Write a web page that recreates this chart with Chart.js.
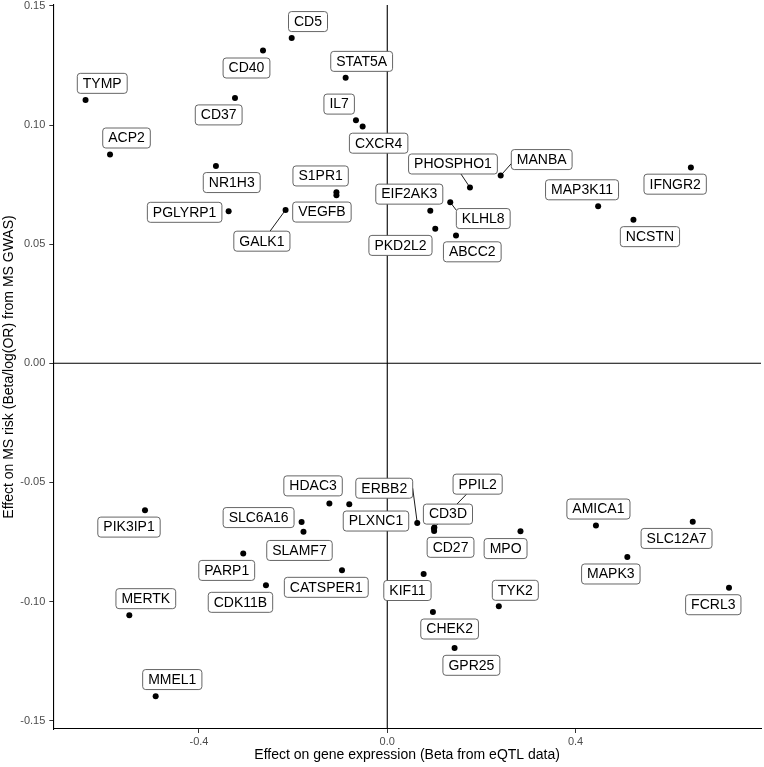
<!DOCTYPE html>
<html><head><meta charset="utf-8">
<script src="https://cdn.jsdelivr.net/npm/chart.js@4.4.0/dist/chart.umd.min.js"></script>
<style>html,body{margin:0;padding:0;background:#fff;}#wrap{width:764px;height:767px;}</style>
</head><body><div id="wrap"><canvas id="c" width="764" height="767"></canvas></div>
<script>
// ---- data ----
const genes = ["TYMP","ACP2","CD40","CD37","NR1H3","PGLYRP1","GALK1","CD5","STAT5A","IL7","CXCR4","S1PR1","VEGFB","PHOSPHO1","MANBA","EIF2AK3","KLHL8","PKD2L2","ABCC2","MAP3K11","IFNGR2","NCSTN",
  "PIK3IP1","PARP1","MERTK","MMEL1","SLC6A16","CDK11B","HDAC3","SLAMF7","PLXNC1","CATSPER1","ERBB2","PPIL2","CD3D","CD27","MPO","KIF11","TYK2","CHEK2","GPR25","AMICA1","SLC12A7","MAPK3","FCRL3"];
const eqtlBeta = [-0.641,-0.589,-0.264,-0.3235,-0.364,-0.337,-0.216,-0.203,-0.0884,-0.0665,-0.0523,-0.108,-0.108,0.1757,0.241,0.0914,0.1338,0.102,0.146,0.448,0.645,0.523,
  -0.5147,-0.306,-0.548,-0.492,-0.182,-0.2577,-0.123,-0.178,-0.0807,-0.0962,0.0637,0.100,0.0992,0.0996,0.283,0.0773,0.237,0.097,0.143,0.4433,0.649,0.510,0.726];
const gwasBeta = [0.1105,0.0876,0.1313,0.1114,0.0828,0.0638,0.0644,0.1366,0.1199,0.1020,0.0994,0.0718,0.0705,0.0738,0.0788,0.0640,0.0676,0.0565,0.0536,0.0659,0.0822,0.0603,
  -0.0617,-0.0798,-0.1058,-0.1398,-0.0666,-0.0932,-0.0588,-0.0707,-0.0592,-0.0869,-0.0670,-0.0689,-0.0693,-0.0704,-0.0705,-0.0884,-0.1020,-0.1044,-0.1195,-0.0681,-0.0665,-0.0813,-0.0942];
const xTicks = [-0.4, 0.0, 0.4];
const xTickLabels = ["-0.4", "0.0", "0.4"];
const yTicks = [-0.15, -0.10, -0.05, 0.00, 0.05, 0.10, 0.15];
const yTickLabels = ["-0.15", "-0.10", "-0.05", "0.00", "0.05", "0.10", "0.15"];
const xTitle = "Effect on gene expression (Beta from eQTL data)";
const yTitle = "Effect on MS risk (Beta/log(OR) from MS GWAS)";

// ---- layout (label nudges in px, segment anchors as box fractions) ----
const labelNudge = {
  TYMP:[16.7,-16.7], ACP2:[16.5,-16.6], CD40:[-16.5,17.5], CD37:[-16.3,17], NR1H3:[15.8,16.5], PGLYRP1:[-44,1],
  GALK1:[-23.7,31.3], CD5:[16.3,-16.3], STAT5A:[16,-16.3], IL7:[-16.8,-16.2], CXCR4:[16,16.7], S1PR1:[-15.8,-16.3],
  VEGFB:[-14.5,16.7], PHOSPHO1:[-17,-23.5], MANBA:[41,-16], EIF2AK3:[-21,-16.7], KLHL8:[33,16.3], PKD2L2:[-34.8,16.7],
  ABCC2:[16.3,16.2], MAP3K11:[-16.1,-16.5], IFNGR2:[-15.7,16.7], NCSTN:[16.5,17],
  PIK3IP1:[-16,16.8], PARP1:[-16.5,17], MERTK:[16.5,-16.7], MMEL1:[16.6,-16.8], SLC6A16:[-43,-4.4], CDK11B:[-25.5,17],
  HDAC3:[-16.3,-17.5], SLAMF7:[-4,18.7], PLXNC1:[26.7,16.7], CATSPER1:[-15.7,17], ERBB2:[-33,-34.7], PPIL2:[43.3,-43.3],
  CD3D:[14,-14.3], CD27:[16.4,16.3], MPO:[-14.9,17.3], KIF11:[-16.2,16.6], TYK2:[16.5,-16], CHEK2:[16.7,17],
  GPR25:[16.8,17.3], AMICA1:[2.5,-16.5], SLC12A7:[-16.2,16.7], MAPK3:[-16.5,17], FCRL3:[-15.7,17]
};
const segmentAnchor = { GALK1:[0.29,-1], PHOSPHO1:[0.18,1], MANBA:[-1,0.4], KLHL8:[-1,-0.83], ERBB2:[1,0], PPIL2:[-0.45,1] };

const FONT = '"Liberation Sans", Arial, Helvetica, sans-serif';

const refLines = {
  id: 'refLines',
  beforeDatasetsDraw(chart) {
    const {ctx, chartArea: a, scales: {x, y}} = chart;
    const x0 = x.getPixelForValue(0), y0 = y.getPixelForValue(0);
    ctx.save();
    ctx.strokeStyle = '#000'; ctx.lineWidth = 1.1;
    ctx.beginPath();
    ctx.moveTo(x0, a.top); ctx.lineTo(x0, a.bottom);
    ctx.moveTo(a.left, y0); ctx.lineTo(a.right, y0);
    ctx.stroke();
    ctx.restore();
  }
};

function rr(ctx, x, y, w, h, r) {
  ctx.beginPath();
  ctx.moveTo(x + r, y);
  ctx.lineTo(x + w - r, y); ctx.arcTo(x + w, y, x + w, y + r, r);
  ctx.lineTo(x + w, y + h - r); ctx.arcTo(x + w, y + h, x + w - r, y + h, r);
  ctx.lineTo(x + r, y + h); ctx.arcTo(x, y + h, x, y + h - r, r);
  ctx.lineTo(x, y + r); ctx.arcTo(x, y, x + r, y, r);
  ctx.closePath();
}

const geneLabels = {
  id: 'geneLabels',
  afterDatasetsDraw(chart) {
    const ctx = chart.ctx;
    const meta = chart.getDatasetMeta(0);
    ctx.save();
    ctx.font = '14px ' + FONT;
    const boxes = genes.map((g, i) => {
      const el = meta.data[i];
      const n = labelNudge[g] || [0, -16];
      const w = ctx.measureText(g).width + 11, h = 20;
      return {g, px: el.x, py: el.y, cx: el.x + n[0], cy: el.y + n[1], w, h};
    });
    ctx.strokeStyle = '#000'; ctx.lineWidth = 0.9;
    boxes.forEach(b => {
      const an = segmentAnchor[b.g];
      if (!an) return;
      ctx.beginPath();
      ctx.moveTo(b.px, b.py);
      ctx.lineTo(b.cx + an[0] * b.w / 2, b.cy + an[1] * b.h / 2);
      ctx.stroke();
    });
    boxes.forEach(b => {
      rr(ctx, b.cx - b.w / 2, b.cy - b.h / 2, b.w, b.h, 3);
      ctx.fillStyle = '#fff'; ctx.fill();
      ctx.strokeStyle = '#555'; ctx.lineWidth = 0.9; ctx.stroke();
      ctx.fillStyle = '#000';
      ctx.textAlign = 'center'; ctx.textBaseline = 'middle';
      ctx.fillText(b.g, b.cx, b.cy + 0.5);
    });
    ctx.restore();
  }
};

new Chart(document.getElementById('c'), {
  type: 'scatter',
  data: {
    datasets: [{
      data: genes.map((g, i) => ({x: eqtlBeta[i], y: gwasBeta[i]})),
      pointRadius: 3, pointHoverRadius: 3,
      backgroundColor: '#000', borderWidth: 0
    }]
  },
  options: {
    responsive: false, animation: false, devicePixelRatio: 1, events: [],
    layout: {padding: {top: 5, right: 2.5, left: 0, bottom: 0}},
    plugins: {legend: {display: false}, tooltip: {enabled: false}},
    scales: {
      x: {
        type: 'linear', min: -0.7095, max: 0.794,
        afterBuildTicks: s => { s.ticks = xTicks.map(v => ({value: v})); },
        afterFit: s => { s.height = 38; s.paddingLeft = 0; s.paddingRight = 0; },
        ticks: {callback: v => xTickLabels[xTicks.indexOf(v)], font: {size: 11, family: FONT}, color: '#4d4d4d', padding: 2, maxRotation: 0},
        grid: {drawOnChartArea: false, color: '#333', tickColor: '#333', tickLength: 4, tickWidth: 1},
        border: {display: true, color: '#000', width: 1.1},
        title: {display: true, text: xTitle, font: {size: 14, family: FONT}, color: '#000', padding: {top: 0, bottom: 3}}
      },
      y: {
        type: 'linear', min: -0.1535, max: 0.1504,
        afterBuildTicks: s => { s.ticks = yTicks.map(v => ({value: v})); },
        afterFit: s => { s.width = 53.3; s.paddingTop = 0; s.paddingBottom = 0; },
        ticks: {callback: v => yTickLabels[yTicks.indexOf(v)], font: {size: 11, family: FONT}, color: '#4d4d4d', padding: 4},
        grid: {drawOnChartArea: false, color: '#333', tickColor: '#333', tickLength: 4, tickWidth: 1},
        border: {display: true, color: '#000', width: 1.1},
        title: {display: true, text: yTitle, font: {size: 14, family: FONT}, color: '#000', padding: {top: 1, bottom: 0}}
      }
    }
  },
  plugins: [refLines, geneLabels]
});
</script></body></html>
